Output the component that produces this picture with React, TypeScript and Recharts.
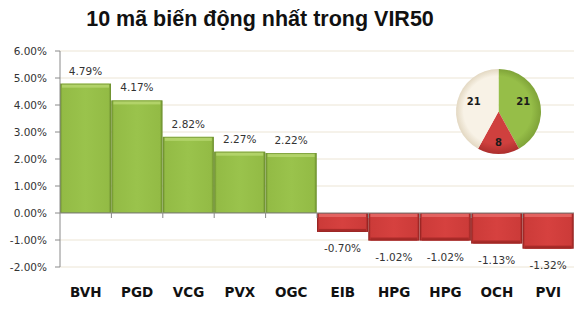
import React from "react";
import {
  BarChart,
  Bar,
  XAxis,
  YAxis,
  CartesianGrid,
  ReferenceLine,
  LabelList,
  PieChart,
  Pie,
  Cell,
} from "recharts";

const categories = ["BVH", "PGD", "VCG", "PVX", "OGC", "EIB", "HPG", "HPG", "OCH", "PVI"];
const changes = [4.79, 4.17, 2.82, 2.27, 2.22, -0.7, -1.02, -1.02, -1.13, -1.32];
const yTicks = [-2, -1, 0, 1, 2, 3, 4, 5, 6];

const pieNames = ["Tăng", "Giảm", "Đứng giá"];
const pieValues = [21, 8, 21];
const pieColors = ["#96be48", "#cf403e", "#f8f2e6"];
const pieDark = ["#7fa338", "#ad2f2d", "#e3d8c2"];

const barData = categories.map((c, i) => ({ name: c, value: changes[i] }));
const pieData = pieNames.map((n, i) => ({ name: n, value: pieValues[i] }));

const BarShape = (props: any) => {
  const { x, y, width, height, value, index } = props;
  const top = Math.min(y, y + height);
  const h = Math.abs(height);
  const pos = value >= 0;
  const id = `g${index}`;
  const edge = pos ? "#6f9130" : "#962322";
  const mid = pos ? "#9ac34c" : "#d6413f";
  const mid2 = pos ? "#93bb45" : "#cc3b39";
  const hi = pos ? "#b6d66f" : "#e66a67";
  const lo = pos ? "#7c9f36" : "#a82b29";
  const zeroY = pos ? top + h : top;
  return (
    <g>
      <defs>
        <linearGradient id={id} x1="0" y1="0" x2="1" y2="0">
          <stop offset="0%" stopColor={edge} />
          <stop offset="5%" stopColor={mid2} />
          <stop offset="50%" stopColor={mid} />
          <stop offset="95%" stopColor={mid2} />
          <stop offset="100%" stopColor={edge} />
        </linearGradient>
      </defs>
      <rect x={x} y={top} width={width} height={h} fill={`url(#${id})`} />
      <rect x={x + 2} y={top} width={Math.max(0, width - 4)} height={Math.min(4, h)} fill={hi} opacity={0.85} />
      {!pos && (
        <rect x={x + 2} y={top + h - 3} width={Math.max(0, width - 4)} height={3} fill={lo} />
      )}
      <rect x={x + 0.5} y={top + 0.5} width={width - 1} height={Math.max(0, h - 1)} fill="none" stroke={edge} strokeWidth={1} opacity={0.7} />
      {index > 0 && <line x1={x} y1={zeroY} x2={x} y2={zeroY + 5} stroke="#888" strokeWidth={1} />}
    </g>
  );
};

const ValueLabel = (props: any) => {
  const { x, y, width, height, value } = props;
  const top = Math.min(y, y + height);
  const bottom = Math.max(y, y + height);
  const pos = value >= 0;
  const ty = pos ? top - 9 : bottom + 20;
  return (
    <text
      x={x + width / 2}
      y={ty}
      textAnchor="middle"
      fontFamily="DejaVu Sans"
      fontSize={10.5}
      fill="#333"
    >
      {`${value.toFixed(2)}%`}
    </text>
  );
};

const CatTick = (props: any) => {
  const { x, payload } = props;
  return (
    <text x={x} y={297} textAnchor="middle" fontFamily="DejaVu Sans" fontWeight="bold" fontSize={13.5} fill="#111">
      {payload.value}
    </text>
  );
};

const RAD = Math.PI / 180;
const PieLabel = (props: any) => {
  const { cx, cy, midAngle, outerRadius, value, index } = props;
  const f = index === 1 ? 0.74 : 0.6;
  const r = outerRadius * f;
  const lx = cx + r * Math.cos(-midAngle * RAD);
  const ly = cy + r * Math.sin(-midAngle * RAD) - (index === 1 ? 0 : 4);
  return (
    <text x={lx} y={ly} textAnchor="middle" dominantBaseline="central" fontFamily="DejaVu Sans" fontWeight="bold" fontSize={10} fill="#1a1a1a">
      {value}
    </text>
  );
};

export default function App() {
  return (
    <div style={{ position: "absolute", left: 0, top: 0, width: 584, height: 312, background: "#fff" }}>
      <div style={{ position: "absolute", left: 0, top: 0 }}>
        <BarChart
          width={584}
          height={312}
          data={barData}
          margin={{ top: 51, right: 10, bottom: 0, left: 0 }}
          barCategoryGap={0}
        >
          <CartesianGrid horizontal vertical={false} stroke="#ece5d5" />
          <YAxis
            width={60}
            domain={[-2, 6]}
            ticks={yTicks}
            interval={0}
            tickFormatter={(v: number) => `${v.toFixed(2)}%`}
            axisLine={{ stroke: "#8a8a8a" }}
            tickLine={{ stroke: "#8a8a8a" }}
            tickSize={5}
            tickMargin={8}
            tick={{ fontFamily: "DejaVu Sans", fontSize: 10.5, fill: "#333" }}
          />
          <XAxis
            dataKey="name"
            height={45}
            axisLine={false}
            tickLine={false}
            interval={0}
            tick={<CatTick />}
          />
          <ReferenceLine y={0} stroke="#8a8a8a" />
          <Bar dataKey="value" isAnimationActive={false} shape={<BarShape />}>
            <LabelList dataKey="value" content={<ValueLabel />} />
          </Bar>
        </BarChart>
      </div>
      <div
        style={{
          position: "absolute",
          left: 60,
          top: 5,
          width: 400,
          textAlign: "center",
          fontFamily: "Liberation Sans, Arial, sans-serif",
          fontWeight: "bold",
          fontSize: 21.5,
          lineHeight: "28px",
          color: "#111",
        }}
      >
        10 mã biến động nhất trong VIR50
      </div>
      <div style={{ position: "absolute", left: 448, top: 61 }}>
        <PieChart width={101} height={101} margin={{ top: 0, right: 0, bottom: 0, left: 0 }}>
          <defs>
            {pieColors.map((c, i) => (
              <radialGradient
                key={i}
                id={`pg${i}`}
                gradientUnits="userSpaceOnUse"
                cx={50.5}
                cy={50.5}
                r={42.5}
                fx={46}
                fy={44}
              >
                <stop offset="0%" stopColor={c} />
                <stop offset="80%" stopColor={c} />
                <stop offset="100%" stopColor={pieDark[i]} />
              </radialGradient>
            ))}
          </defs>
          <Pie
            data={pieData}
            dataKey="value"
            cx={50.5}
            cy={50.5}
            outerRadius={42.5}
            startAngle={90}
            endAngle={-270}
            stroke="none"
            isAnimationActive={false}
            labelLine={false}
            label={<PieLabel />}
          >
            {pieData.map((d, i) => (
              <Cell key={d.name + i} fill={`url(#pg${i})`} />
            ))}
          </Pie>
        </PieChart>
      </div>
    </div>
  );
}
